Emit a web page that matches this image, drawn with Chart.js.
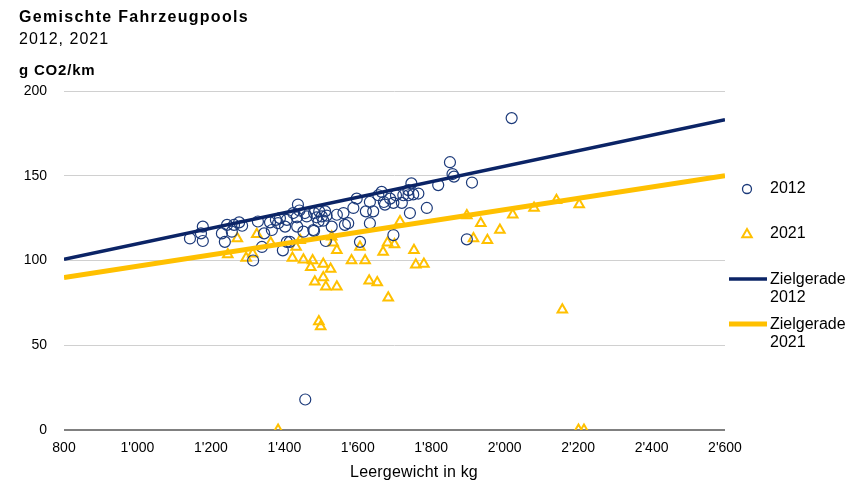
<!DOCTYPE html>
<html>
<head>
<meta charset="utf-8">
<script src="https://cdn.jsdelivr.net/npm/chart.js@4.4.1/dist/chart.umd.min.js"></script>
<style>
  html, body { margin: 0; padding: 0; background: #ffffff; }
  #wrap { width: 855px; height: 486px; position: relative; }
</style>
</head>
<body>
<div id="wrap"><canvas id="c" width="855" height="486"></canvas></div>
<script>
// ---- Data ----
const titleText = "Gemischte Fahrzeugpools";
const subtitleText = "2012, 2021";
const yUnitText = "g CO2/km";
const xAxisTitle = "Leergewicht in kg";

const label2012 = "2012";
const label2021 = "2021";
const labelTarget2012 = "Zielgerade 2012";
const labelTarget2021 = "Zielgerade 2021";

const weight2012 = [1143,1178,1173,1178,1230,1238,1244,1257,1263,1277,1285,1315,1328,1345,1339,1361,1366,1377,1383,1388,1402,1407,1396,1407,1434,1437,1441,1424,1456,1461,1435,1452,1481,1488,1495,1502,1511,1515,1506,1493,1481,1529,1543,1561,1574,1565,1588,1597,1606,1633,1633,1622,1642,1656,1671,1674,1688,1697,1704,1720,1724,1738,1751,1742,1697,1765,1788,1851,1858,1862,1819,1746,1738,1665,1911,1897,2019,1457,1513,1415,1479];
const co2_2012 = [113,111.5,116,120,116,111,121,117,121,122.5,120.5,100,123,116,108,122.5,118,124,122,125,120,124,106,111,125.5,133,129.5,128,128,126,120,117,128,125.5,129,126,129,126.5,123.5,123,117.5,120,127,128,122,121,131,136.5,111,134.5,122,129,129,138.5,134.5,133,136.5,134,138.5,134,138.5,138.5,139,128,115,139.5,131,158,151,149.5,144.5,145.5,141.5,140.5,146,112.5,184,18,111.5,111,118];

const weight2021 = [1272,1325,1246,1296,1314,1363,1422,1432,1443,1452,1472,1477,1506,1526,1483,1506,1513,1543,1529,1533,1543,1583,1606,1620,1631,1653,1669,1681,1700,1715,1753,1758,1780,1683,1494,1499,1383,1897,1935,1915,1953,1987,2022,2080,2141,2203,2157,2201,2216];
const co2_2021 = [113,115.5,103.5,101.5,104,110.5,101.5,108,112,100.5,96,100,98,95,87.5,90,84.5,84.5,114,110.5,106,100,108,100,88,87,105,110.5,109.5,123,106,97.5,98,78,64,61,0,126.5,122,113,112,118,127,131,135.5,133,71,0,0];

const targetWeights = [800, 2600];
const target2012 = [100.7, 183];
const target2021 = [90, 150];

const xTicks = [800,1000,1200,1400,1600,1800,2000,2200,2400,2600];
const yTicks = [0,50,100,150,200];

// ---- Styles ----
const NAVY = "#0b2466";
const YELLOW = "#ffc000";
const FONT = "'Liberation Sans', Arial, sans-serif";

function pts(xs, ys) { return xs.map((x, i) => ({ x: x, y: ys[i] })); }
function fmt(v) { return String(v).replace(/\B(?=(\d{3})+(?!\d))/g, "'"); }

const titlePlugin = {
  id: 'titles',
  afterDraw(chart) {
    const ctx = chart.ctx;
    ctx.save();
    ctx.fillStyle = "#000";
    ctx.textBaseline = "alphabetic";
    ctx.textAlign = "left";
    ctx.font = "bold 16px " + FONT;
    ctx.letterSpacing = "1.3px";
    ctx.fillText(titleText, 19, 22);
    ctx.font = "16px " + FONT;
    ctx.letterSpacing = "1px";
    ctx.fillText(subtitleText, 19, 44);
    ctx.font = "bold 15px " + FONT;
    ctx.letterSpacing = "0.8px";
    ctx.fillText(yUnitText, 19, 75);
    // x axis title
    ctx.font = "16px " + FONT;
    ctx.letterSpacing = "0.2px";
    ctx.textAlign = "center";
    ctx.textBaseline = "middle";
    ctx.fillText(xAxisTitle, 414, 473);
    ctx.restore();
  }
};

const legendPlugin = {
  id: 'customLegend',
  afterDraw(chart) {
    const ctx = chart.ctx;
    const ds = chart.data.datasets;
    ctx.save();
    ctx.font = "16px " + FONT;
    ctx.fillStyle = "#000";
    ctx.textBaseline = "middle";
    ctx.textAlign = "left";
    const tx = 770;
    // circle
    ctx.strokeStyle = ds[2].borderColor; ctx.lineWidth = 1.3;
    ctx.beginPath(); ctx.arc(747, 189, 4.5, 0, Math.PI * 2); ctx.stroke();
    ctx.fillText(ds[2].label, tx, 189);
    // triangle
    ctx.strokeStyle = ds[3].borderColor; ctx.lineWidth = 2;
    const r = 5, cy = 234, cx = 747;
    ctx.beginPath();
    ctx.moveTo(cx, cy - r);
    ctx.lineTo(cx + r * 0.95, cy + r * 0.65);
    ctx.lineTo(cx - r * 0.95, cy + r * 0.65);
    ctx.closePath(); ctx.stroke();
    ctx.fillText(ds[3].label, tx, 234);
    // lines
    const lines = [[ds[0], 279, 298], [ds[1], 324, 343]];
    lines.forEach(([d, y1, y2]) => {
      ctx.strokeStyle = d.borderColor; ctx.lineWidth = d.borderWidth;
      ctx.beginPath(); ctx.moveTo(729, y1); ctx.lineTo(767, y1); ctx.stroke();
      const parts = d.label.split(" ");
      ctx.fillText(parts[0], tx, y1 + 1);
      ctx.fillText(parts[1], tx, y2);
    });
    ctx.restore();
  }
};

new Chart(document.getElementById('c'), {
  type: 'scatter',
  data: {
    datasets: [
      { label: labelTarget2012, data: pts(targetWeights, target2012), showLine: true,
        borderColor: NAVY, backgroundColor: NAVY, borderWidth: 3.5, pointRadius: 0, order: 1 },
      { label: labelTarget2021, data: pts(targetWeights, target2021), showLine: true,
        borderColor: YELLOW, backgroundColor: YELLOW, borderWidth: 5, pointRadius: 0, order: 1 },
      { label: label2012, data: pts(weight2012, co2_2012), pointStyle: 'circle',
        borderColor: "#1c3a7a", backgroundColor: 'rgba(0,0,0,0)', borderWidth: 1.2, pointRadius: 5.5, order: 2 },
      { label: label2021, data: pts(weight2021, co2_2021), pointStyle: 'triangle',
        borderColor: YELLOW, backgroundColor: 'rgba(0,0,0,0)', borderWidth: 2, pointRadius: 5.5, order: 2 }
    ]
  },
  options: {
    responsive: false,
    animation: false,
    events: [],
    layout: { padding: { left: 0, right: 130, top: 91, bottom: 0 } },
    plugins: { legend: { display: false }, tooltip: { enabled: false }, title: { display: false } },
    scales: {
      x: {
        type: 'linear', min: 800, max: 2600,
        afterBuildTicks(scale) { scale.ticks = xTicks.map(v => ({ value: v })); },
        afterFit(scale) { scale.height = 56; },
        grid: { display: false, drawTicks: false },
        border: { display: false },
        ticks: { color: "#000", font: { family: FONT, size: 14 }, padding: 10, maxRotation: 0, autoSkip: false,
                 callback: (v) => fmt(v) },
        title: { display: false, text: xAxisTitle }
      },
      y: {
        type: 'linear', min: 0, max: 200,
        afterBuildTicks(scale) { scale.ticks = yTicks.map(v => ({ value: v })); },
        afterFit(scale) { scale.width = 64; },
        grid: { drawTicks: false,
                color: (c) => c.tick && c.tick.value === 0 ? "#808080" : "#d0d0d0",
                lineWidth: (c) => c.tick && c.tick.value === 0 ? 2 : 1 },
        border: { display: false },
        ticks: { color: "#000", font: { family: FONT, size: 14 }, padding: 17, callback: (v) => fmt(v) }
      }
    }
  },
  plugins: [titlePlugin, legendPlugin]
});
</script>
</body>
</html>
